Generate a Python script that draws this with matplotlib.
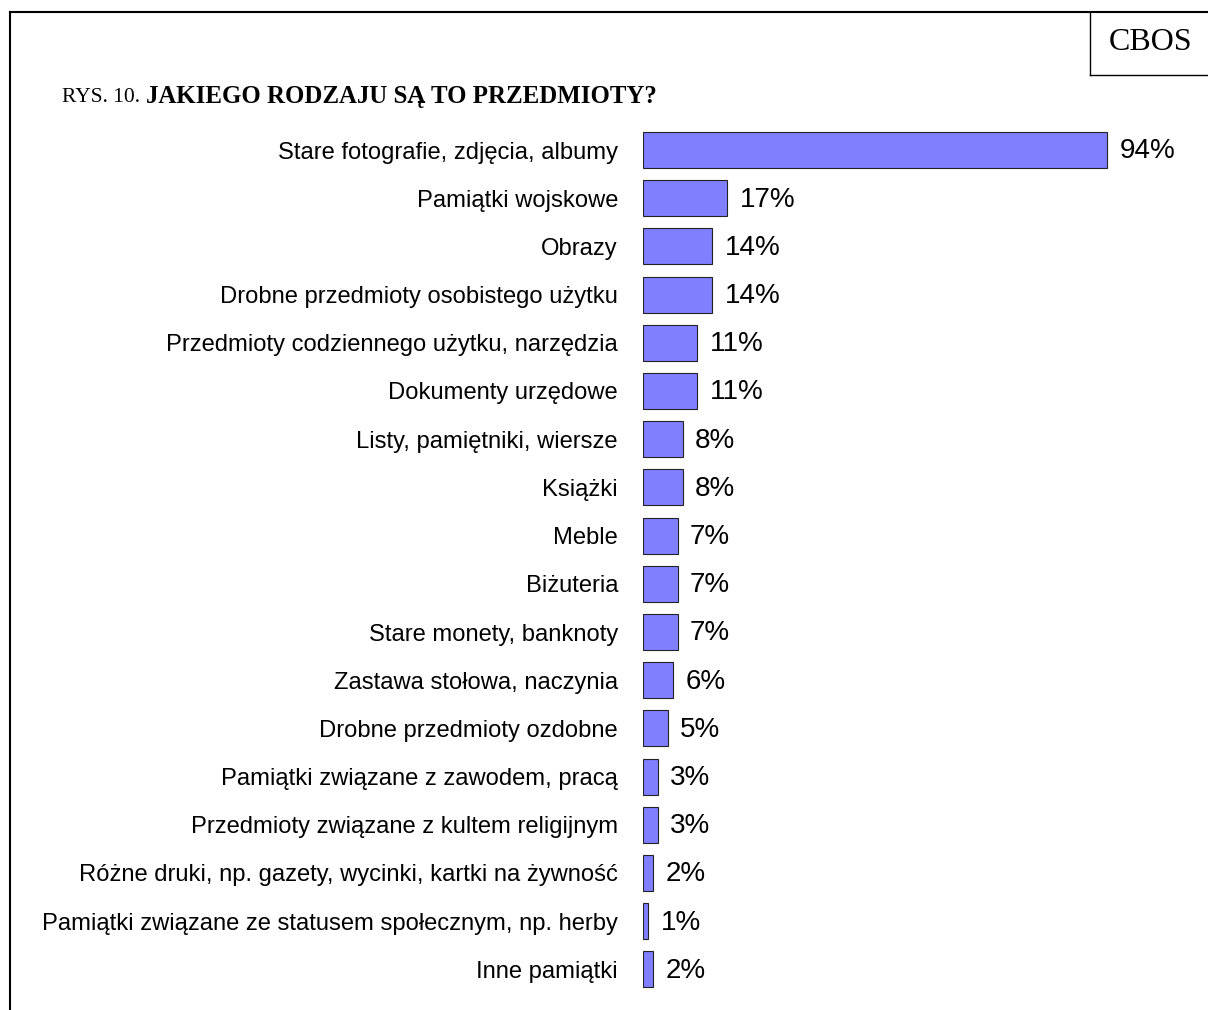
import matplotlib
matplotlib.use('Agg')
import matplotlib.pyplot as plt
from matplotlib.lines import Line2D

# dane z wykresu
kategorie = [
    'Stare fotografie, zdjęcia, albumy',
    'Pamiątki wojskowe',
    'Obrazy',
    'Drobne przedmioty osobistego użytku',
    'Przedmioty codziennego użytku, narzędzia',
    'Dokumenty urzędowe',
    'Listy, pamiętniki, wiersze',
    'Książki',
    'Meble',
    'Biżuteria',
    'Stare monety, banknoty',
    'Zastawa stołowa, naczynia',
    'Drobne przedmioty ozdobne',
    'Pamiątki związane z zawodem, pracą',
    'Przedmioty związane z kultem religijnym',
    'Różne druki, np. gazety, wycinki, kartki na żywność',
    'Pamiątki związane ze statusem społecznym, np. herby',
    'Inne pamiątki',
]
wartosci = [94, 17, 14, 14, 11, 11, 8, 8, 7, 7, 7, 6, 5, 3, 3, 2, 1, 2]

W, H = 1208, 1010
fig = plt.figure(figsize=(W / 100, H / 100), dpi=100)

# obramowanie strony
fig.add_artist(Line2D([10 / W, 10 / W], [0, 1 - 12 / H], color='black', lw=1.5))
fig.add_artist(Line2D([10 / W, 1], [1 - 12 / H, 1 - 12 / H], color='black', lw=1.5))
# ramka CBOS
fig.add_artist(Line2D([1090 / W, 1090 / W], [1 - 12 / H, 1 - 75 / H], color='black', lw=1))
fig.add_artist(Line2D([1090 / W, 1], [1 - 75 / H, 1 - 75 / H], color='black', lw=1))
fig.text(1151 / W, 1 - 43 / H, 'CBOS', family='Liberation Serif', fontsize=23,
         ha='center', va='center')

# tytuł
fig.text(62 / W, 1 - 97 / H, 'RYS. 10.', family='Liberation Serif', fontsize=15.5,
         ha='left', va='center')
fig.text(146 / W, 1 - 97 / H, 'JAKIEGO RODZAJU SĄ TO PRZEDMIOTY?', family='Liberation Serif',
         fontsize=17.9, fontweight='bold', ha='left', va='center')

# osie
top_px, step = 150, 48.2
ax_top = top_px - step / 2
ax_bot = top_px + step * 17 + step / 2
ax = fig.add_axes([643 / W, 1 - ax_bot / H, 494 / W, (ax_bot - ax_top) / H])

y = list(range(len(kategorie)))
ax.barh(y, wartosci, height=0.75, color='#8080FF', edgecolor='#222222', linewidth=0.8)
for yi, v in zip(y, wartosci):
    ax.annotate(f'{v}%', (v, yi), xytext=(9, -1), textcoords='offset points',
                ha='left', va='center', family='Liberation Sans', fontsize=20)

ax.set_xlim(0, 100)
ax.set_ylim(len(kategorie) - 0.5, -0.5)
ax.set_yticks(y)
ax.set_yticklabels(kategorie, family='Liberation Sans', fontsize=17.1)
ax.tick_params(axis='y', length=0, pad=18)
ax.set_xticks([])
for s in ax.spines.values():
    s.set_visible(False)

fig.savefig('out.png', dpi=100)
